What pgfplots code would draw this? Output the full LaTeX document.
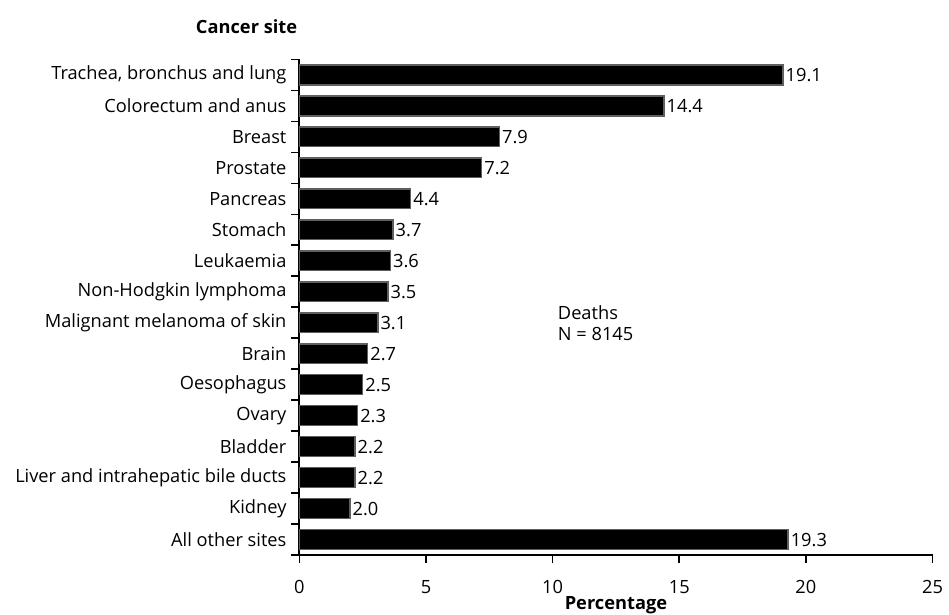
\documentclass[border=0pt]{standalone}
\usepackage{fontspec}
\setmainfont{Open Sans}
\usepackage{pgfplots}
\pgfplotsset{compat=1.18}
\definecolor{barborder}{RGB}{95,95,95}
\begin{document}
\fontsize{13.8pt}{16pt}\selectfont
\begin{tikzpicture}
\begin{axis}[
  at={(0,0)}, anchor=south west,
  scale only axis, width=479pt, height=375pt,
  xmin=0, xmax=25, ymin=-0.5, ymax=15.5,
  axis lines*=left,
  axis line style={line width=1.5pt},
  tick style={line width=1.3pt, black},
  tick align=outside,
  major tick length=6pt,
  xtick={0,5,...,25},
  /pgf/number format/assume math mode=true,
  ytick={-0.5,0.5,...,15.5},
  yticklabels={},
  extra y ticks={0,...,15},
  extra y tick labels={All other sites,Kidney,Liver and intrahepatic bile ducts,Bladder,Ovary,Oesophagus,Brain,Malignant melanoma of skin,Non-Hodgkin lymphoma,Leukaemia,Stomach,Pancreas,Prostate,Breast,Colorectum and anus,{Trachea, bronchus and lung}},
  extra y tick style={major tick length=0pt, tick style={draw=none}, yticklabel style={xshift=-5pt}},
  xticklabel style={yshift=-8.5pt},
  xlabel={\textbf{Percentage}},
  xlabel style={at={(axis description cs:0.5,0)}, anchor=base, inner sep=0pt, yshift=-41.4pt},
  xbar, bar width=15pt,
  nodes near coords,
  nodes near coords style={/pgf/number format/.cd, fixed, fixed zerofill, precision=1, assume math mode=true, /tikz/.cd, anchor=west, inner sep=1.5pt, font=\fontsize{13.8pt}{16pt}\selectfont},
  clip=false,
]
\addplot[fill=black, draw=barborder, line width=1pt] coordinates {
(19.3,0) (2.0,1) (2.2,2) (2.2,3) (2.3,4) (2.5,5) (2.7,6) (3.1,7)
(3.5,8) (3.6,9) (3.7,10) (4.4,11) (7.2,12) (7.9,13) (14.4,14) (19.1,15)
};
\node[anchor=west, align=left, inner sep=0pt] at (axis cs:10.2,7.0) {Deaths\\N = 8145};
\node[anchor=base east, inner sep=0pt] at ([yshift=20pt,xshift=-1.5pt]rel axis cs:0,1) {\textbf{Cancer site}};
\end{axis}
\path (-226.5pt,-45pt) rectangle (485.25pt,420pt);
\end{tikzpicture}
\end{document}
